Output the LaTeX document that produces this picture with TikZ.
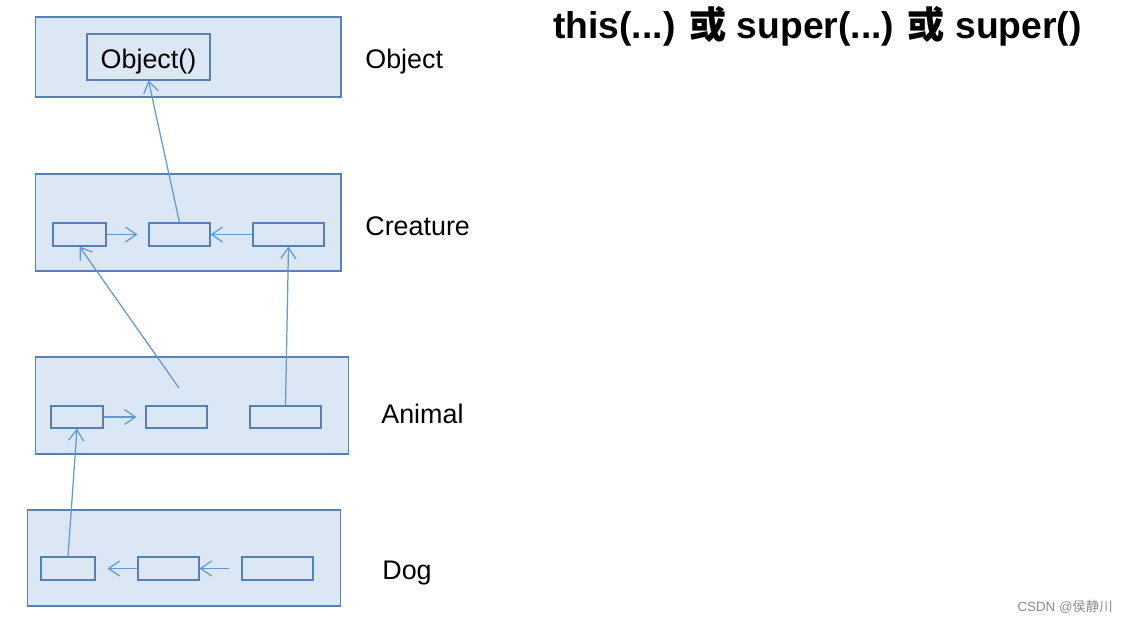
\documentclass[tikz,border=0pt]{standalone}
\usepackage{fontspec}
\setmainfont{Liberation Sans}
\newfontfamily\cjk{Noto Sans CJK SC}
\usetikzlibrary{arrows.meta}
\definecolor{layerfill}{RGB}{220,231,245}
\definecolor{layerline}{RGB}{88,128,182}
\definecolor{linkblue}{RGB}{98,152,212}
\begin{document}
\begin{tikzpicture}[x=0.02cm,y=-0.02cm,
  layer/.style={draw=layerline,fill=layerfill,line width=0.6pt,inner sep=0pt,minimum width=6.12cm,minimum height=1.94cm},
  slot/.style={draw=layerline,line width=0.6pt,inner sep=0pt,minimum height=0.46cm},
  link/.style={-{Straight Barb[length=0.22cm,width=0.3cm]},linkblue,line width=0.7pt},
  tag/.style={anchor=west,inner sep=0pt,font=\fontsize{15.3pt}{18pt}\selectfont}]
  \useasboundingbox[fill=white] (0,0) rectangle (1126,623);
  % class layers
  \node[layer,minimum height=1.6cm] (object) at (188,57) {};
  \node[layer] (creature) at (188,222.5) {};
  \node[layer,minimum width=6.28cm] (animal) at (192,405.5) {};
  \node[layer,minimum width=6.28cm,minimum height=1.92cm] (dog) at (184,558) {};
  \node[tag] (objectlbl) at (365,62) {Object};
  \node[tag] (creaturelbl) at (365,226) {Creature};
  \node[tag] (animallbl) at (381,414) {Animal};
  \node[tag] (doglbl) at (382,573) {Dog};
  % constructors
  \node[slot,minimum width=2.46cm,minimum height=0.92cm,text height=0.56cm,font=\fontsize{15.3pt}{18pt}\selectfont] (objctor) at (148.5,57) {Object()};
  \node[slot,minimum width=1.06cm] (c1) at (79.5,234.5) {};
  \node[slot,minimum width=1.22cm] (c2) at (179.5,234.5) {};
  \node[slot,minimum width=1.42cm] (c3) at (288.5,234.5) {};
  \node[slot,minimum width=1.04cm,minimum height=0.44cm] (a1) at (77,417) {};
  \node[slot,minimum width=1.22cm,minimum height=0.44cm] (a2) at (176.5,417) {};
  \node[slot,minimum width=1.42cm,minimum height=0.44cm] (a3) at (285.5,417) {};
  \node[slot,minimum width=1.08cm] (d1) at (68,568.5) {};
  \node[slot,minimum width=1.22cm] (d2) at (168.5,568.5) {};
  \node[slot,minimum width=1.42cm] (d3) at (277.5,568.5) {};
  \coordinate (a2call) at (179,388);
  % calls
  \draw[link] (c2.north) -- (objctor.south);
  \draw[link,shorten >=0.22cm] (c1.east) -- (c2.west);
  \draw[link] (c3.west) -- (c2.east);
  \draw[link] (a2call) -- (c1.south);
  \draw[link] (a3.north) -- (c3.south);
  \draw[link,shorten >=0.18cm] (a1.east) -- (a2.west);
  \draw[link] (d1.north) -- (a1.south);
  \draw[link,shorten >=0.24cm] (d2.west) -- (d1.east);
  \draw[link,shorten <=0.24cm] (d3.west) -- (d2.east);
  % heading and mark
  \node[anchor=west,inner sep=0pt,font=\fontsize{21.2pt}{24pt}\selectfont\bfseries] (title) at (553,26) {this(...) {\cjk 或} super(...) {\cjk 或} super()};
  \node[anchor=east,inner sep=0pt,text=black!45,font=\fontsize{7.6pt}{9pt}\selectfont] (mark) at (1113,607) {CSDN @{\cjk 侯静川}};
\end{tikzpicture}
\end{document}
